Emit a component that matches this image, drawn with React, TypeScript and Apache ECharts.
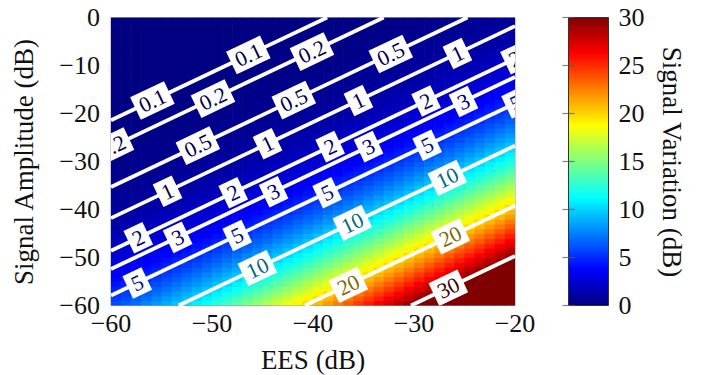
import React, { useEffect, useRef } from 'react';
import * as echarts from 'echarts';

// ---- data ----
const eesMin = -60;
const eesMax = -20;
const ampMin = -60;
const ampMax = 0;

// Signal variation (dB) along the offset d = EES - amplitude (dB), d = -59 ... 39
const offsetStart = -59;
const variationByOffset = [
  0.010, 0.011, 0.012, 0.014, 0.015, 0.017, 0.019, 0.022, 0.024, 0.027,
  0.031, 0.035, 0.039, 0.043, 0.049, 0.055, 0.061, 0.069, 0.077, 0.086,
  0.097, 0.109, 0.122, 0.137, 0.153, 0.172, 0.192, 0.216, 0.241, 0.270,
  0.303, 0.339, 0.380, 0.425, 0.475, 0.531, 0.594, 0.664, 0.741, 0.828,
  0.92, 1.03, 1.15, 1.28, 1.42, 1.58, 1.76, 1.95, 2.16, 2.39,
  2.64, 2.91, 3.21, 3.53, 3.88, 4.25, 4.65, 5.08, 5.54, 6.02,
  6.54, 7.08, 7.65, 8.25, 8.88, 9.53, 10.21, 10.91, 11.64, 12.39,
  13.16, 13.95, 14.76, 15.58, 16.42, 17.28, 18.15, 19.03, 19.92, 20.83,
  21.74, 22.66, 23.59, 24.53, 25.48, 26.43, 27.38, 28.34, 29.30, 30.27,
  31.2, 32.2, 33.2, 34.2, 35.1, 36.1, 37.1, 38.1, 39.1,
];

const contourLevels = [0.1, 0.2, 0.5, 1, 2, 3, 5, 10, 20, 30];
// each contour is the line EES - amplitude = offset
const contourOffsets = [-38.6, -33.0, -24.7, -18.2, -11.4, -7.6, -2.1, 6.7, 19.2, 29.7];
// EES positions of the labels on each contour
const contourLabelEES = [
  [-55.9, -46.4],
  [-59.9, -49.9, -40.1],
  [-51.4, -41.9, -32.3],
  [-54.4, -44.5, -35.5, -25.7],
  [-57.3, -47.9, -38.3, -28.8, -20.0],
  [-53.4, -43.9, -34.5, -25.1],
  [-57.4, -47.5, -38.6, -28.7, -19.9],
  [-45.5, -36.1, -26.7],
  [-36.5, -26.4],
  [-26.6],
];

const colorMin = 0;
const colorMax = 30;
const colorTickStep = 5;
const axisTickStep = 10;

// ---- style ----
const FONT = 'Liberation Serif, serif';
const jetStops: [number, number[]][] = [
  [0, [0, 0, 128]],
  [0.125, [0, 0, 255]],
  [0.375, [0, 255, 255]],
  [0.625, [255, 255, 0]],
  [0.875, [255, 0, 0]],
  [1, [128, 0, 0]],
];
function jet(t: number): number[] {
  const x = Math.max(0, Math.min(1, t));
  for (let i = 1; i < jetStops.length; i++) {
    const [p1, c1] = jetStops[i];
    const [p0, c0] = jetStops[i - 1];
    if (x <= p1) {
      const f = (x - p0) / (p1 - p0);
      return c0.map((c, k) => c + (c1[k] - c) * f);
    }
  }
  return jetStops[jetStops.length - 1][1];
}
const rgb = (c: number[], s = 1) =>
  `rgb(${Math.round(c[0] * s)},${Math.round(c[1] * s)},${Math.round(c[2] * s)})`;
const fmt = (v: number) => (v < 0 ? '\u2212' + Math.abs(v) : String(v));

export default function App() {
  const ref = useRef<HTMLDivElement>(null);
  useEffect(() => {
    document.body.style.margin = '0';
    if (!ref.current) return;
    const chart = echarts.init(ref.current, undefined, { renderer: 'svg' });

    const cells: number[][] = [];
    for (let e = eesMin; e < eesMax; e++) {
      for (let a = ampMin; a < ampMax; a++) {
        const d = e - a;
        cells.push([e, a, variationByOffset[d - offsetStart]]);
      }
    }

    const lineSeries = contourOffsets.map((d) => {
      const e0 = Math.max(eesMin, ampMin + d);
      const e1 = Math.min(eesMax, ampMax + d);
      return {
        type: 'line',
        xAxisIndex: 0,
        yAxisIndex: 0,
        data: [
          [e0, e0 - d],
          [e1, e1 - d],
        ],
        symbol: 'none',
        silent: true,
        z: 3,
        lineStyle: { color: '#ffffff', width: 3.8 },
      };
    });

    const labelData: number[][] = [];
    contourLabelEES.forEach((list, i) => {
      list.forEach((e) => labelData.push([e, e - contourOffsets[i], i]));
    });

    const option: any = {
      animation: false,
      textStyle: { fontFamily: FONT },
      grid: [
        { left: 111, top: 17.5, width: 404, height: 288, show: true, borderColor: '#999', borderWidth: 1 },
        { left: 568.5, top: 17.5, width: 40, height: 288 },
      ],
      xAxis: [
        {
          type: 'value',
          gridIndex: 0,
          min: eesMin,
          max: eesMax,
          interval: axisTickStep,
          axisLine: { show: false },
          axisTick: { show: false },
          splitLine: { show: false },
          axisLabel: { formatter: fmt, fontFamily: FONT, fontSize: 26, color: '#111', margin: 5 },
        },
        { type: 'value', gridIndex: 1, min: 0, max: 1, show: false },
      ],
      yAxis: [
        {
          type: 'value',
          gridIndex: 0,
          min: ampMin,
          max: ampMax,
          interval: axisTickStep,
          axisLine: { show: false },
          axisTick: { show: false },
          splitLine: { show: false },
          axisLabel: { formatter: fmt, fontFamily: FONT, fontSize: 26, color: '#111', margin: 11 },
        },
        {
          type: 'value',
          gridIndex: 1,
          position: 'right',
          min: colorMin,
          max: colorMax,
          interval: colorTickStep,
          z: 5,
          axisLine: { show: false },
          axisTick: { show: true, inside: true, length: 6, lineStyle: { color: 'rgba(90,90,90,0.75)', width: 1.2 } },
          splitLine: { show: false },
          axisLabel: { fontFamily: FONT, fontSize: 26, color: '#111', margin: 10 },
        },
        {
          type: 'value',
          gridIndex: 1,
          position: 'left',
          min: colorMin,
          max: colorMax,
          interval: colorTickStep,
          z: 5,
          axisLine: { show: false },
          axisTick: { show: true, inside: true, length: 6, lineStyle: { color: 'rgba(90,90,90,0.75)', width: 1.2 } },
          splitLine: { show: false },
          axisLabel: { show: false },
        },
      ],
      series: [
        {
          type: 'custom',
          xAxisIndex: 0,
          yAxisIndex: 0,
          clip: true,
          silent: true,
          z: 1,
          data: cells,
          renderItem: (_p: any, api: any) => {
            const e = api.value(0);
            const a = api.value(1);
            const v = api.value(2);
            const p0 = api.coord([e, a + 1]);
            const p1 = api.coord([e + 1, a]);
            return {
              type: 'rect',
              shape: { x: p0[0], y: p0[1], width: p1[0] - p0[0] + 0.6, height: p1[1] - p0[1] + 0.6 },
              style: { fill: rgb(jet((v - colorMin) / (colorMax - colorMin))) },
            };
          },
        },
        ...lineSeries,
        {
          type: 'custom',
          xAxisIndex: 0,
          yAxisIndex: 0,
          clip: true,
          silent: true,
          z: 4,
          data: labelData,
          renderItem: (_p: any, api: any) => {
            const e = api.value(0);
            const a = api.value(1);
            const i = api.value(2);
            const lvl = contourLevels[i];
            const p = api.coord([e, a]);
            const q1 = api.coord([e - 1, a - 1]);
            const q2 = api.coord([e + 1, a + 1]);
            const rot = Math.atan2(q1[1] - q2[1], q2[0] - q1[0]);
            return {
              type: 'text',
              x: p[0],
              y: p[1],
              rotation: rot,
              style: {
                text: String(lvl),
                fill: rgb(jet((lvl - colorMin) / (colorMax - colorMin)), 0.5),
                backgroundColor: '#ffffff',
                padding: [2, 5, 1, 5],
                fontFamily: FONT,
                fontSize: 22,
                align: 'center',
                verticalAlign: 'middle',
              },
            };
          },
        },
        {
          type: 'custom',
          xAxisIndex: 1,
          yAxisIndex: 1,
          silent: true,
          z: 1,
          data: [[0, colorMin]],
          renderItem: (_p: any, api: any) => {
            const p0 = api.coord([0, colorMax]);
            const p1 = api.coord([1, colorMin]);
            return {
              type: 'rect',
              shape: { x: p0[0], y: p0[1], width: p1[0] - p0[0], height: p1[1] - p0[1] },
              style: {
                fill: new echarts.graphic.LinearGradient(
                  0,
                  1,
                  0,
                  0,
                  jetStops.map(([o, c]) => ({ offset: o, color: rgb(c) }))
                ),
                stroke: '#333',
                lineWidth: 1,
              },
            };
          },
        },
      ],
      graphic: [
        {
          type: 'text',
          x: 24,
          y: 162,
          rotation: Math.PI / 2,
          style: {
            text: 'Signal Amplitude (dB)',
            fontFamily: FONT,
            fontSize: 27,
            fill: '#111',
            align: 'center',
            verticalAlign: 'middle',
          },
        },
        {
          type: 'text',
          x: 313,
          y: 360,
          style: { text: 'EES (dB)', fontFamily: FONT, fontSize: 27, fill: '#111', align: 'center', verticalAlign: 'middle' },
        },
        {
          type: 'text',
          x: 672,
          y: 162,
          rotation: -Math.PI / 2,
          style: {
            text: 'Signal Variation (dB)',
            fontFamily: FONT,
            fontSize: 27,
            fill: '#111',
            align: 'center',
            verticalAlign: 'middle',
          },
        },
      ],
    };
    chart.setOption(option);
    return () => chart.dispose();
  }, []);
  return <div ref={ref} style={{ width: 709, height: 375 }} />;
}
